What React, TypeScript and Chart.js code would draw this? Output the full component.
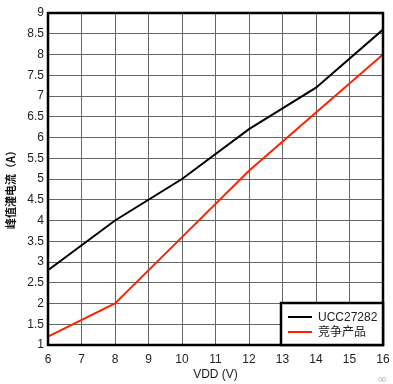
import React, { useEffect, useRef } from "react";
import { Chart, registerables } from "chart.js";

Chart.register(...registerables);

const vdd = [6, 8, 10, 12, 14, 16];
const ucc27282 = [2.8, 4.0, 5.0, 6.2, 7.2, 8.6];
const competitor = [1.2, 2.0, 3.6, 5.2, 6.6, 8.0];
const seriesNames = ["UCC27282", "竞争产品"];
const xTitle = "VDD (V)";
const yTitle = "峰值灌电流（A）";

const legendPlugin = {
  id: "boxLegend",
  afterDraw(chart: any) {
    const ctx = chart.ctx;
    const a = chart.chartArea;
    const w = 102;
    const h = 42;
    const x0 = a.right - w;
    const y0 = a.bottom - h;
    ctx.save();
    ctx.fillStyle = "#fff";
    ctx.fillRect(x0, y0, w, h);
    ctx.strokeStyle = "#000";
    ctx.lineWidth = 2.5;
    ctx.strokeRect(x0, y0, w, h);
    chart.data.datasets.forEach((ds: any, i: number) => {
      const y = y0 + 14 + i * 15;
      ctx.strokeStyle = ds.borderColor;
      ctx.lineWidth = 2;
      ctx.beginPath();
      ctx.moveTo(x0 + 7, y);
      ctx.lineTo(x0 + 31, y);
      ctx.stroke();
      ctx.fillStyle = "#222";
      ctx.font = "12px 'Liberation Sans', 'Noto Sans CJK SC', sans-serif";
      ctx.textBaseline = "middle";
      ctx.textAlign = "left";
      ctx.fillText(ds.label, x0 + 37, y + 1);
    });
    // y-axis title
    ctx.save();
    ctx.translate(11, (a.top + a.bottom) / 2 + 8);
    ctx.rotate(-Math.PI / 2);
    ctx.fillStyle = "#111";
    ctx.font = "bold 11px 'Noto Sans CJK SC', sans-serif";
    ctx.textAlign = "center";
    ctx.textBaseline = "middle";
    ctx.fillText(yTitle, 0, 0);
    ctx.restore();
    ctx.fillStyle = "#aaa";
    ctx.font = "7px 'Liberation Sans', sans-serif";
    ctx.textAlign = "right";
    ctx.textBaseline = "alphabetic";
    ctx.fillText("00", 386, 382);
    ctx.restore();
  },
};

const borderPlugin = {
  id: "plotBorder",
  afterDatasetsDraw(chart: any) {
    const ctx = chart.ctx;
    const a = chart.chartArea;
    ctx.save();
    ctx.strokeStyle = "#000";
    ctx.lineWidth = 2.5;
    ctx.strokeRect(a.left, a.top, a.right - a.left, a.bottom - a.top);
    ctx.restore();
  },
};

export default function App() {
  const ref = useRef<HTMLCanvasElement | null>(null);
  useEffect(() => {
    document.body.style.margin = "0";
    const canvas = ref.current!;
    const chart = new Chart(canvas, {
      type: "line",
      data: {
        labels: vdd,
        datasets: [
          {
            label: seriesNames[0],
            data: vdd.map((x, i) => ({ x, y: ucc27282[i] })),
            borderColor: "#000000",
            borderWidth: 2,
            pointRadius: 0,
            tension: 0,
          },
          {
            label: seriesNames[1],
            data: vdd.map((x, i) => ({ x, y: competitor[i] })),
            borderColor: "#ff2200",
            borderWidth: 2,
            pointRadius: 0,
            tension: 0,
          },
        ],
      },
      options: {
        responsive: false,
        animation: false,
        layout: { padding: { top: 13, right: 10, left: 0, bottom: 0 } },
        plugins: { legend: { display: false }, tooltip: { enabled: false } },
        scales: {
          x: {
            type: "linear",
            min: 6,
            max: 16,
            afterFit: (s: any) => {
              s.height = 39;
              s.paddingRight = 4;
              s.paddingLeft = 0;
            },
            ticks: {
              stepSize: 1,
              color: "#222",
              padding: 7,
              maxRotation: 0,
              font: { family: "'Liberation Sans', sans-serif", size: 12 },
            },
            grid: { color: "#666", lineWidth: 1, drawTicks: false },
            border: { display: false },
            title: {
              display: true,
              text: xTitle,
              color: "#222",
              padding: { top: 0, bottom: 2 },
              font: { family: "'Liberation Sans', sans-serif", size: 12 },
            },
          },
          y: {
            min: 1,
            max: 9,
            afterFit: (s: any) => {
              s.width = 48;
            },
            ticks: {
              stepSize: 0.5,
              color: "#222",
              padding: 4,
              callback: (v: any) => String(Number(v)),
              font: { family: "'Liberation Sans', sans-serif", size: 12 },
            },
            grid: { color: "#666", lineWidth: 1, drawTicks: false },
            border: { display: false },
            title: { display: false },
          },
        },
      },
      plugins: [borderPlugin, legendPlugin],
    });
    return () => chart.destroy();
  }, []);
  return (
    <div style={{ width: 393, height: 384, background: "#fff" }}>
      <canvas ref={ref} width={393} height={384} />
    </div>
  );
}
